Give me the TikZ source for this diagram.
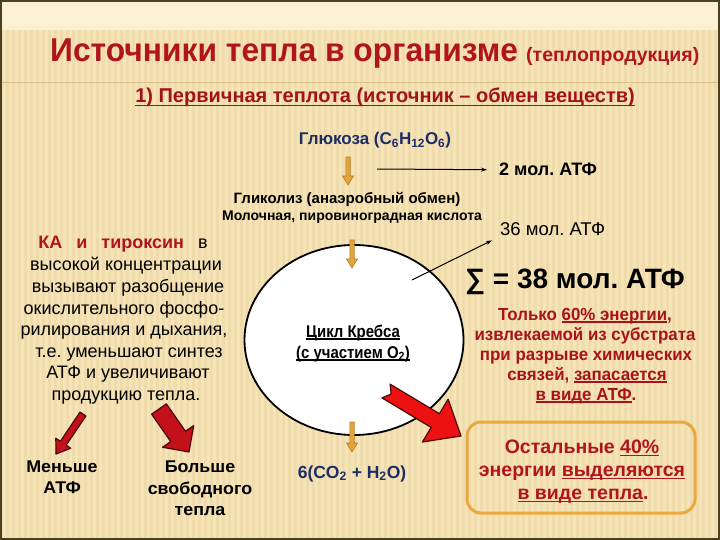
\documentclass[tikz,border=0pt]{standalone}
\usepackage{fontspec}
\usepackage{graphicx}
\setmainfont{Liberation Sans}
\usetikzlibrary{calc,arrows.meta,shapes.geometric}
\definecolor{bgc}{HTML}{F5E4B8}
\definecolor{bgtop}{HTML}{FBF0D4}
\definecolor{stripec}{HTML}{E9D29C}
\definecolor{linec}{HTML}{D9BF8C}
\definecolor{framec}{HTML}{4B3F22}
\definecolor{titlered}{HTML}{B0141C}
\definecolor{subred}{HTML}{A3121A}
\definecolor{navy}{HTML}{1E2D66}
\definecolor{txtred}{HTML}{A8121C}
\definecolor{orangef}{HTML}{E2A43C}
\definecolor{oranged}{HTML}{B97A22}
\definecolor{boxor}{HTML}{EBA740}
\definecolor{redf}{HTML}{EE1111}
\definecolor{redd}{HTML}{4A0808}
\definecolor{darkredf}{HTML}{C4101A}
\newcommand\uln[1]{\setbox0=\hbox{#1}\rlap{\rule[-0.16em]{\wd0}{0.075em}}\box0}
\newcommand\sx[2]{\scalebox{#1}[1]{#2}}
% block arrow: #1 tail, #2 tip, #3 shaft half width, #4 head half width, #5 head length, #6 notch, #7 style
\newcommand\blkarrow[7]{%
  \coordinate (#1h) at ($(#2)!#5!(#1)$);
  \path[#7] ($(#1)!#3!90:(#2)$) -- ($(#1h)!#3!90:(#2)$) -- ($(#1h)!#4!90:(#2)$) -- (#2)
    -- ($(#1h)!#4!-90:(#2)$) -- ($(#1h)!#3!-90:(#2)$) -- ($(#1)!#3!-90:(#2)$)
    -- ($(#1)!#6!(#2)$) -- cycle;}
\tikzset{
  every node/.style={inner sep=0pt},
  bf/.style={font=\fontsize{#1}{#1}\selectfont\bfseries},
  rg/.style={font=\fontsize{#1}{#1}\selectfont},
  orarrow/.style={fill=orangef, draw=oranged, line width=0.6pt},
  redarrow/.style={fill=redf, draw=redd, line width=1.2pt, line join=round},
  dredarrow/.style={fill=darkredf, draw=redd, line width=1.2pt, line join=round},
}
\begin{document}
\frenchspacing
\begin{tikzpicture}[x=1pt,y=-1pt]
\useasboundingbox (0,0) rectangle (720,540);
% background
\fill[bgc] (0,0) rectangle (720,540);
\fill[bgtop] (0,0) rectangle (720,30);
\foreach \i in {0,6,...,720} \fill[stripec,opacity=0.45] (\i,30) rectangle ++(2.5,510);
\draw[linec, line width=0.8pt] (0,82) -- (720,82);
\draw[framec, line width=4pt] (0,0) rectangle (720,540);

% title
\node[bf=33, text=titlered, anchor=base west] (title) at (50,62) {\sx{0.963}{Источники тепла в организме}};
\node[bf=19.5, text=titlered, anchor=base west] (titlesub) at (526,62) {(теплопродукция)};
\node[bf=20, text=subred, anchor=base] (primary) at (385,103) {\uln{1) Первичная теплота (источник – обмен веществ)}};

% glucose chain
\node[bf=17, text=navy, anchor=base] (gluc) at (375,145) {Глюкоза (C\textsubscript{6}H\textsubscript{12}O\textsubscript{6})};
\coordinate (oa1s) at (348,157); \coordinate (oa1e) at (348,185);
\blkarrow{oa1s}{oa1e}{2.2pt}{5.5pt}{9pt}{0pt}{orarrow}
\node[bf=18, anchor=base west] (atp2) at (499,176) {2 мол. АТФ};
\coordinate (la2s) at (377,169);
\draw[-{Stealth[length=6pt,width=4pt]}, line width=1pt, shorten >=12pt] (la2s) -- (atp2.west);
\node[bf=15, anchor=base] (glyc) at (347,204) {Гликолиз (анаэробный обмен)};
\node[bf=14, anchor=base] (acid) at (352,221) {Молочная, пировиноградная кислота};
\node[rg=18.5, anchor=base west] (atp36) at (500,236) {36 мол. АТФ};

% Krebs circle
\node[ellipse, draw, fill=white, line width=1.8pt, minimum width=219pt, minimum height=190pt] (krebs) at (354,340) {};
\coordinate (oa2s) at (352,240); \coordinate (oa2e) at (352,268);
\blkarrow{oa2s}{oa2e}{2.2pt}{5.5pt}{9pt}{0pt}{orarrow}
\coordinate (oa3s) at (352,422); \coordinate (oa3e) at (352,452);
\blkarrow{oa3s}{oa3e}{2.2pt}{5.5pt}{9pt}{0pt}{orarrow}
\coordinate (l36s) at (412,280);
\draw[-{Stealth[length=6pt,width=4pt]}, line width=1pt, shorten >=9pt] (l36s) -- (atp36.south west);
\node[bf=17, anchor=base] (krebs1) at (353,337) {\sx{0.88}{\uln{Цикл Кребса}}};
\node[bf=17, anchor=base] (krebs2) at (353,358) {\sx{0.88}{\uln{(с участием O\textsubscript{2})}}};
\node[bf=17.5, text=navy, anchor=base] (prod) at (352,478) {6(CO\textsubscript{2} + H\textsubscript{2}O)};

% big red arrow
\coordinate (ra1s) at (386,391); \coordinate (ra1e) at (461,436);
\blkarrow{ra1s}{ra1e}{8pt}{25pt}{30pt}{6pt}{redarrow}

% left text
\node[rg=18, anchor=base] (l1) at (123,248) {\textcolor{titlered}{\bfseries КА\hspace{9pt} и\hspace{9pt} тироксин}\hspace{9pt} в};
\node[rg=18, anchor=base] (l2) at (126,270) {высокой концентрации};
\node[rg=18, anchor=base] (l3) at (128,292) {вызывают разобщение};
\node[rg=18, anchor=base] (l4) at (124,314) {окислительного фосфо-};
\node[rg=18, anchor=base] (l5) at (124,335) {рилирования и дыхания,};
\node[rg=18, anchor=base] (l6) at (129,357) {т.е. уменьшают синтез};
\node[rg=18, anchor=base] (l7) at (128,378) {АТФ и увеличивают};
\node[rg=18, anchor=base] (l8) at (126,400) {продукцию тепла.};

% left arrows
\coordinate (sa1s) at (83,414); \coordinate (sa1e) at (56,454);
\blkarrow{sa1s}{sa1e}{3.5pt}{9pt}{13pt}{0pt}{dredarrow}
\coordinate (ba1s) at (159,409); \coordinate (ba1e) at (189,452);
\blkarrow{ba1s}{ba1e}{9pt}{19pt}{19pt}{0pt}{dredarrow}

\node[bf=17, anchor=base] (less1) at (62,472) {\sx{1.05}{Меньше}};
\node[bf=17, anchor=base] (less2) at (62,493) {\sx{1.05}{АТФ}};
\node[bf=17, anchor=base] (more1) at (200,472) {\sx{1.05}{Больше}};
\node[bf=17, anchor=base] (more2) at (200,494) {\sx{1.05}{свободного}};
\node[bf=17, anchor=base] (more3) at (200,515) {\sx{1.05}{тепла}};

% right text
\node[bf=28, anchor=base west] (sum) at (465,288) {∑ = 38 мол. АТФ};
\node[bf=17.5, text=txtred, anchor=base] (r1) at (585,320) {\sx{0.965}{Только \uln{60\% энергии},}};
\node[bf=17.5, text=txtred, anchor=base] (r2) at (585,340) {\sx{0.965}{извлекаемой из субстрата}};
\node[bf=17.5, text=txtred, anchor=base] (r3) at (586,360) {\sx{0.965}{при разрыве химических}};
\node[bf=17.5, text=txtred, anchor=base] (r4) at (587,380) {\sx{0.965}{связей, \uln{запасается}}};
\node[bf=17.5, text=txtred, anchor=base] (r5) at (586,400) {\sx{0.965}{\uln{в виде АТФ}.}};

% box
\draw[boxor, line width=3pt, rounded corners=14pt] (467,422) rectangle (695,513);
\node[bf=19.5, text=titlered, anchor=base] (b1) at (582,453) {Остальные \uln{40\%}};
\node[bf=19.5, text=titlered, anchor=base] (b2) at (582,476) {энергии \uln{выделяются}};
\node[bf=19.5, text=titlered, anchor=base] (b3) at (583,499) {\uln{в виде тепла}.};
\end{tikzpicture}
\end{document}
